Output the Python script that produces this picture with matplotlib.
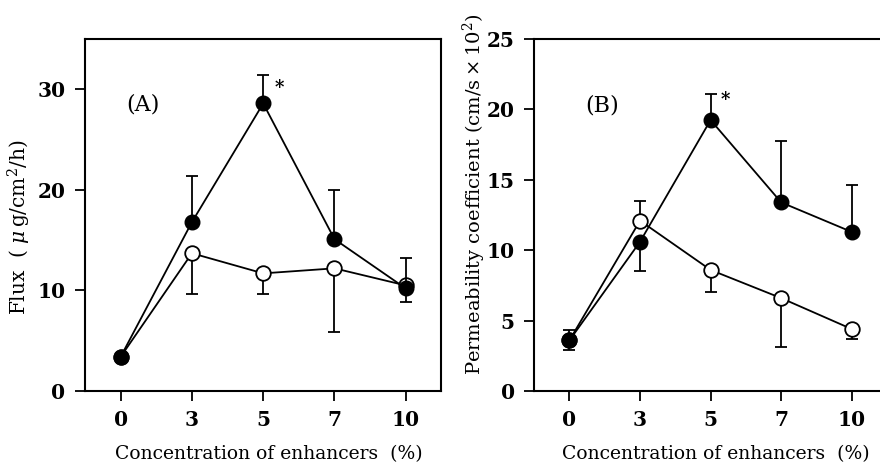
import numpy as np
import matplotlib
matplotlib.use("Agg")
import matplotlib.pyplot as plt

# ----------------------------------------------------------------------
# data
conc_labels = ["0", "3", "5", "7", "10"]

# (A) flux, ug/cm2/h
flux_filled = [3.4, 16.8, 28.6, 15.1, 10.2]
flux_filled_lo = [0.0, 0.0, 0.0, 0.0, 0.0]
flux_filled_hi = [0.0, 4.6, 2.8, 4.9, 3.0]
flux_open = [3.4, 13.7, 11.7, 12.2, 10.5]
flux_open_lo = [0.0, 4.1, 2.1, 6.3, 1.6]
flux_open_hi = [0.0, 0.0, 0.0, 0.0, 0.0]

# (B) permeability coefficient, cm/s x 10^2
perm_filled = [3.6, 10.6, 19.25, 13.4, 11.3]
perm_filled_lo = [0.7, 2.05, 0.0, 0.0, 0.0]
perm_filled_hi = [0.75, 0.0, 1.85, 4.35, 3.3]
perm_open = [3.6, 12.1, 8.6, 6.6, 4.4]
perm_open_lo = [0.0, 0.0, 1.6, 3.45, 0.7]
perm_open_hi = [0.0, 1.4, 0.0, 0.0, 0.0]

# ----------------------------------------------------------------------
plt.rcParams.update({
    "font.family": "DejaVu Serif",
    "mathtext.fontset": "dejavuserif",
    "axes.linewidth": 1.5,
})

fig = plt.figure(figsize=(8.8, 4.68), dpi=100)
axA = fig.add_axes([0.0966, 0.1645, 0.405, 0.752])
axB = fig.add_axes([0.607, 0.1645, 0.401, 0.752])

xpos = np.arange(len(conc_labels))


def draw(ax, filled, f_lo, f_hi, opn, o_lo, o_hi):
    ax.errorbar(xpos, opn, yerr=[o_lo, o_hi], fmt="o-", color="black", lw=1.3,
                ms=10.5, mfc="white", mec="black", mew=1.3, capsize=4.5,
                elinewidth=1.3, capthick=1.3, zorder=2)
    ax.errorbar(xpos, filled, yerr=[f_lo, f_hi], fmt="o-", color="black", lw=1.3,
                ms=10.5, mfc="black", mec="black", capsize=4.5,
                elinewidth=1.3, capthick=1.3, zorder=3)
    ax.set_xlim(-0.5, 4.5)
    ax.set_xticks(xpos)
    ax.set_xticklabels(conc_labels)
    ax.tick_params(direction="out", length=7, width=1.3, labelsize=14.5, pad=7)
    for lab in ax.get_xticklabels() + ax.get_yticklabels():
        lab.set_fontweight("bold")
    ax.set_xlabel("Concentration of enhancers  (%)", fontsize=13.5)
    ax.xaxis.set_label_coords(0.515, -0.153)


draw(axA, flux_filled, flux_filled_lo, flux_filled_hi,
     flux_open, flux_open_lo, flux_open_hi)
axA.set_ylim(0, 35)
axA.set_yticks([0, 10, 20, 30])
for lab in axA.get_yticklabels():
    lab.set_fontweight("bold")
axA.set_ylabel(r"Flux  ( $\mu\,\mathrm{g/cm^2/h}$)", fontsize=14.5)
axA.yaxis.set_label_coords(-0.146, 0.466)
axA.text(0.163, 0.815, "(A)", transform=axA.transAxes, fontsize=16,
         ha="center", va="center")
axA.text(2.23, 30.1, "*", fontsize=13, fontweight="bold", ha="center", va="center")

draw(axB, perm_filled, perm_filled_lo, perm_filled_hi,
     perm_open, perm_open_lo, perm_open_hi)
axB.set_ylim(0, 25)
axB.set_yticks([0, 5, 10, 15, 20, 25])
for lab in axB.get_yticklabels():
    lab.set_fontweight("bold")
axB.set_ylabel(r"Permeability coefficient $(\mathrm{cm/s}\times10^2)$", fontsize=14)
axB.yaxis.set_label_coords(-0.13, 0.56)
axB.text(0.193, 0.81, "(B)", transform=axB.transAxes, fontsize=16,
         ha="center", va="center")
axB.text(2.21, 20.65, "*", fontsize=13, fontweight="bold", ha="center", va="center")

fig.savefig("out.png", dpi=100)
